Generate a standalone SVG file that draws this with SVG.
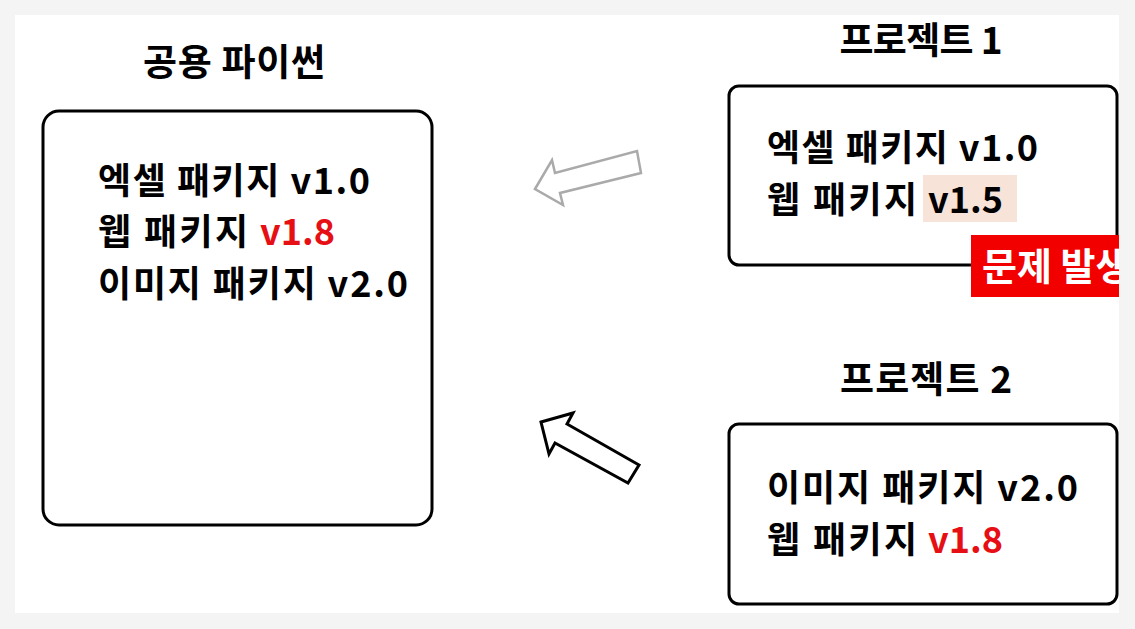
<svg xmlns="http://www.w3.org/2000/svg" width="1135" height="629" viewBox="0 0 1135 629">
<defs>
<style>
.t{font-family:"Noto Sans CJK KR","Noto Sans",sans-serif;font-weight:700;fill:#000}
.b{font-size:36px}
.h{font-size:37px}
.red{fill:#e60f14}
.box{fill:#fff;stroke:#000;stroke-width:3}
</style>
<clipPath id="cardclip"><rect x="15" y="15" width="1104" height="598"/></clipPath>
</defs>
<rect width="1135" height="629" fill="#f4f4f4"/>
<rect x="15" y="15" width="1104" height="598" fill="#fff"/>
<g id="shared-python">
<text class="t h" x="234" y="76" text-anchor="middle" textLength="182">공용 파이썬</text>
<rect class="box" x="43" y="111" width="389" height="414" rx="16"/>
<text class="t b" x="98" y="194" textLength="272">엑셀 패키지 v1.0</text>
<text class="t b" x="98" y="245"><tspan textLength="150">웹 패키지</tspan><tspan class="red" x="260">v1.8</tspan></text>
<text class="t b" x="98" y="297" textLength="310">이미지 패키지 v2.0</text>
</g>
<g id="project1">
<text class="t h" x="921" y="54" text-anchor="middle" textLength="163">프로젝트 1</text>
<rect class="box" x="729" y="86" width="388" height="179" rx="10"/>
<rect x="923" y="175" width="94" height="47" fill="#f8e3d8"/>
<text class="t b" x="767" y="161" textLength="271">엑셀 패키지 v1.0</text>
<text class="t b" x="767" y="213"><tspan textLength="150">웹 패키지</tspan><tspan x="928">v1.5</tspan></text>
<g clip-path="url(#cardclip)">
<rect x="971" y="235" width="150" height="62" fill="#f20000"/>
<text class="t" x="982" y="280" font-size="38" style="fill:#fff">문제 발생</text>
</g>
</g>
<g id="project2">
<text class="t h" x="926" y="393" text-anchor="middle" textLength="172">프로젝트 2</text>
<rect class="box" x="729" y="424" width="388" height="180" rx="10"/>
<text class="t b" x="767" y="501" textLength="311">이미지 패키지 v2.0</text>
<text class="t b" x="767" y="553"><tspan textLength="150">웹 패키지</tspan><tspan class="red" x="928">v1.8</tspan></text>
</g>
<g id="connectors" fill="#fff" stroke-linejoin="miter">
<polygon points="535,189 552,160 555,173 637,151 641,173 560,193 563,205" stroke="#aaaaaa" stroke-width="2.5"/>
<polygon points="541,422 573,413 567,424 639,465 628,483 555,443 549,454" stroke="#000" stroke-width="3"/>
</g>
</svg>
